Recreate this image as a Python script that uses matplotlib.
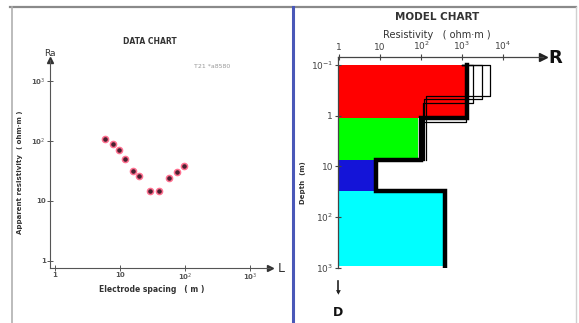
import numpy as np
import matplotlib
matplotlib.use("Agg")
import matplotlib.pyplot as plt
from matplotlib.lines import Line2D

# ---------------- data ----------------
spacing = [5.9, 7.8, 9.7, 11.9, 15.9, 19.6, 29, 40, 57, 75, 96]
app_res = [108, 89, 71, 50, 32, 26, 14.7, 14.7, 24, 30, 38]

x_ticks_left = [1, 10, 100, 1000]
x_ticklabels_left = ["1", "10", "10$^2$", "10$^3$"]
y_ticks_left = [1, 10, 100, 1000]
y_ticklabels_left = ["1", "10", "10$^2$", "10$^3$"]

layer_colors = ["#ff0000", "#00ff00", "#1414d8", "#00ffff"]
layer_res = [1320, 85, 7, 370]
layer_bounds = [0.1, 1.1, 7.6, 31, 900]

model_res = [1320, 100, 8, 390]
model_bounds = [0.1, 1.1, 7.6, 31, 900]

eq_r1 = [1850, 3100, 4800, 1250]
eq_h1 = [0.55, 0.47, 0.40, 1.3]
eq_r2 = [110, 120, 135, 95]
eq_h2 = [7.6, 7.6, 7.6, 7.6]

r_ticks = [1, 10, 100, 1000, 10000]
r_ticklabels = ["1", "10", "10$^2$", "10$^3$", "10$^4$"]
d_ticks = [0.1, 1, 10, 100, 1000]
d_ticklabels = ["10$^{-1}$", "1", "10", "10$^2$", "10$^3$"]

W, H = 579, 323
fig = plt.figure(figsize=(W / 100, H / 100), dpi=100)
fig.patch.set_facecolor("white")

def ax_px(x0, y0, x1, y1):
    # x0,y0 top-left ; x1,y1 bottom-right in image pixels
    return fig.add_axes([x0 / W, 1 - y1 / H, (x1 - x0) / W, (y1 - y0) / H])

def ftext(x, y, s, **kw):
    fig.text(x / W, 1 - y / H, s, **kw)

# frame lines
fig.add_artist(Line2D([10 / W, 576 / W], [1 - 7 / H, 1 - 7 / H], color="#8a8a8a", lw=1.6))
fig.add_artist(Line2D([12 / W, 12 / W], [0, 1 - 7 / H], color="#b0b0b0", lw=1.2))
fig.add_artist(Line2D([576 / W, 576 / W], [0, 1 - 7 / H], color="#d0d0d0", lw=1.0))
fig.add_artist(Line2D([293 / W, 293 / W], [0, 1 - 7 / H], color="#4a58b8", lw=2.2))

# ---------------- left: data chart ----------------
axL = ax_px(50, 60, 270, 268)
axL.set_xscale("log")
axL.set_yscale("log")
axL.set_xlim(10 ** -0.077, 10 ** 3.31)
axL.set_ylim(10 ** -0.117, 10 ** 3.35)
axL.set_facecolor("none")
for s in ["top", "right"]:
    axL.spines[s].set_visible(False)
for s in ["left", "bottom"]:
    axL.spines[s].set_color("#555555")
    axL.spines[s].set_linewidth(0.8)
axL.set_xticks(x_ticks_left)
axL.set_xticklabels(x_ticklabels_left, fontsize=5, fontweight="bold", color="#333333")
axL.set_yticks(y_ticks_left)
axL.set_yticklabels(y_ticklabels_left, fontsize=5, fontweight="bold", color="#333333")
axL.minorticks_off()
axL.tick_params(direction="inout", length=4, width=0.7, colors="#555555", pad=1)
axL.plot(1, 0, ">", color="#333333", ms=5, transform=axL.transAxes, clip_on=False)
axL.plot(0, 1, "^", color="#333333", ms=5, transform=axL.transAxes, clip_on=False)
axL.plot(spacing, app_res, "o", ms=4.4, mfc="#4a2030", mec="#ff7090", mew=1.1, ls="none")

ftext(150, 42, "DATA CHART", fontsize=5.5, fontweight="bold", ha="center", va="center", color="#333333")
ftext(50, 53, "Ra", fontsize=6.5, ha="center", va="center", color="#333333")
ftext(281, 268, "L", fontsize=9, ha="center", va="center", color="#333333")
ftext(212, 66, "T21 *a8580", fontsize=4.5, ha="center", va="center", color="#999999")
ftext(20, 172, "Apparent resistivity  ( ohm·m )", fontsize=5, fontweight="bold",
      rotation=90, ha="center", va="center", color="#333333")
ftext(152, 289, "Electrode spacing   ( m )", fontsize=5.5, fontweight="bold",
      ha="center", va="center", color="#333333")

# ---------------- right: model chart ----------------
axR = ax_px(338, 57, 543, 268)
axR.set_xscale("log")
axR.set_yscale("log")
axR.set_xlim(10 ** -0.03, 10 ** 4.98)
axR.set_ylim(10 ** (-1 + 203 / 51), 10 ** (-1 - 8 / 51))
axR.set_facecolor("none")
for s in ["bottom", "right"]:
    axR.spines[s].set_visible(False)
for s in ["left", "top"]:
    axR.spines[s].set_color("#444444")
    axR.spines[s].set_linewidth(0.9)
axR.xaxis.tick_top()
axR.set_xticks(r_ticks)
axR.set_xticklabels(r_ticklabels, fontsize=6.5, color="#222222")
axR.set_yticks(d_ticks)
axR.set_yticklabels(d_ticklabels, fontsize=6.5, color="#222222")
axR.minorticks_off()
axR.tick_params(direction="inout", length=5, width=0.8, colors="#444444", pad=1)
axR.plot(1, 1, ">", color="#222222", ms=6, transform=axR.transAxes, clip_on=False)

for i, c in enumerate(layer_colors):
    axR.fill_betweenx([layer_bounds[i], layer_bounds[i + 1]], 1, layer_res[i],
                      color=c, lw=0, zorder=1)

# equivalence curves (thin)
for r1, h1, r2, h2 in zip(eq_r1, eq_h1, eq_r2, eq_h2):
    xs = [1000, r1, r1, r2, r2]
    ys = [0.1, 0.1, h1, h1, h2]
    axR.plot(xs, ys, color="black", lw=0.9, zorder=3)

# main model (thick)
mx, my = [], []
for i, r in enumerate(model_res):
    mx += [r, r]
    my += [model_bounds[i], model_bounds[i + 1]]
axR.plot(mx, my, color="black", lw=3.2, solid_joinstyle="miter", zorder=4)

ftext(437, 17, "MODEL CHART", fontsize=7.5, fontweight="bold", ha="center", va="center", color="#333333")
ftext(437, 35, "Resistivity   ( ohm·m )", fontsize=7, ha="center", va="center", color="#333333")
ftext(555, 58, "R", fontsize=13, fontweight="bold", ha="center", va="center", color="#111111")
ftext(303, 183, "Depth  (m)", fontsize=5, fontweight="bold", rotation=90,
      ha="center", va="center", color="#333333")
fig.add_artist(Line2D([338 / W, 338 / W], [1 - 281 / H, 1 - 292 / H], color="#222222", lw=1.2))
ftext(338, 293, "▼", fontsize=4.5, ha="center", va="center", color="#222222")
ftext(338, 312, "D", fontsize=9, fontweight="bold", ha="center", va="center", color="#111111")

fig.savefig("out.png", dpi=100, facecolor="white")
